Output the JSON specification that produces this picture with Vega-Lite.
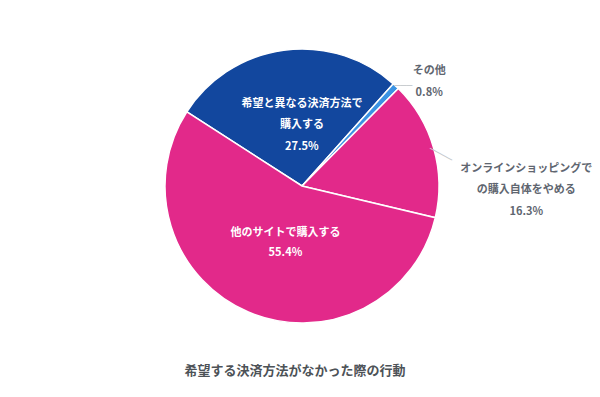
{
  "$schema": "https://vega.github.io/schema/vega-lite/v6.json",
  "width": 596,
  "height": 344,
  "autosize": {"type": "none"},
  "padding": {"left": 4, "top": 14, "right": 0, "bottom": 39},
  "background": "white",
  "title": {
    "text": "希望する決済方法がなかった際の行動",
    "orient": "bottom",
    "anchor": "middle",
    "frame": "group",
    "font": "Noto Sans CJK JP",
    "fontSize": 13,
    "fontWeight": "bold",
    "color": "#4d5257",
    "offset": 7,
    "dx": -7
  },
  "config": {"view": {"stroke": null}},
  "data": {
    "values": [
      {"key": "A", "label": "希望と異なる決済方法で\n購入する\n27.5%", "value": 27.5, "order": 1},
      {"key": "B", "label": "その他\n0.8%", "value": 0.8, "order": 2},
      {"key": "C", "label": "オンラインショッピングで\nの購入自体をやめる\n16.3%", "value": 16.3, "order": 3},
      {"key": "D", "label": "他のサイトで購入する\n55.4%", "value": 55.4, "order": 4}
    ]
  },
  "encoding": {
    "theta": {"field": "value", "type": "quantitative", "stack": true, "scale": {"range": [-0.9983, 5.2849]}},
    "order": {"field": "order", "type": "quantitative"}
  },
  "layer": [
    {
      "mark": {"type": "arc", "outerRadius": 137, "stroke": "white", "strokeWidth": 1.5},
      "encoding": {
        "color": {
          "field": "key",
          "type": "nominal",
          "scale": {"domain": ["A", "B", "C", "D"], "range": ["#12479E", "#3B93E3", "#E2298A", "#E2298A"]},
          "legend": null
        }
      }
    },
    {
      "mark": {"type": "text", "clip": true, "radius": 83, "dx": 11, "dy": 0, "lineBreak": "\n", "lineHeight": 21.5, "font": "Noto Sans CJK JP", "fontSize": 11, "fontWeight": "bold", "color": "white", "align": "center", "baseline": "middle"},
      "encoding": {"text": {"condition": {"test": "datum.key === 'A'", "field": "label", "type": "nominal"}, "value": ""}}
    },
    {
      "mark": {"type": "text", "clip": true, "radius": 50, "dx": 3, "dy": 1, "lineBreak": "\n", "lineHeight": 20, "font": "Noto Sans CJK JP", "fontSize": 11, "fontWeight": "bold", "color": "white", "align": "center", "baseline": "middle"},
      "encoding": {"text": {"condition": {"test": "datum.key === 'D'", "field": "label", "type": "nominal"}, "value": ""}}
    },
    {
      "mark": {"type": "text", "clip": true, "radius": 171, "dx": 10, "dy": 10, "lineBreak": "\n", "lineHeight": 22, "font": "Noto Sans CJK JP", "fontSize": 11, "fontWeight": "bold", "color": "#5f6670", "align": "center", "baseline": "middle"},
      "encoding": {"text": {"condition": {"test": "datum.key === 'B'", "field": "label", "type": "nominal"}, "value": ""}}
    },
    {
      "mark": {"type": "text", "clip": true, "radius": 225, "dx": 8, "dy": 44.5, "lineBreak": "\n", "lineHeight": 21.5, "font": "Noto Sans CJK JP", "fontSize": 11, "fontWeight": "bold", "color": "#5f6670", "align": "center", "baseline": "middle"},
      "encoding": {"text": {"condition": {"test": "datum.key === 'C'", "field": "label", "type": "nominal"}, "value": ""}}
    },
    {
      "mark": {"type": "text", "clip": true, "radius": 145, "dx": 2, "dy": 5.6, "font": "DejaVu Sans Mono", "fontSize": 10, "color": "#c4c8cc", "align": "center", "baseline": "middle"},
      "encoding": {"text": {"condition": {"test": "datum.key === 'B'", "value": "───"}, "value": ""}}
    },
    {
      "mark": {"type": "text", "clip": true, "radius": 150, "dx": 0, "dy": 11.3, "angle": 28.6, "font": "DejaVu Sans Mono", "fontSize": 10.4, "color": "#c4c8cc", "align": "center", "baseline": "middle"},
      "encoding": {"text": {"condition": {"test": "datum.key === 'C'", "value": "────"}, "value": ""}}
    }
  ]
}
